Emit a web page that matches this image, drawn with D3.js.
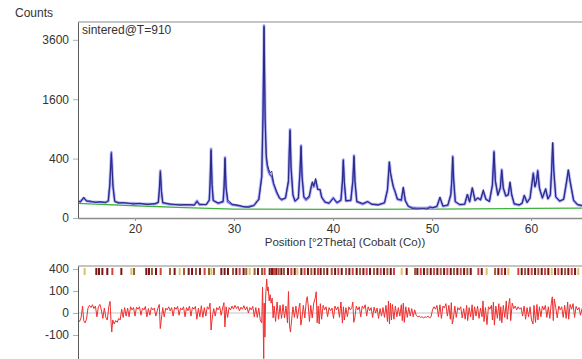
<!DOCTYPE html>
<html>
<head>
<meta charset="utf-8">
<script src="https://cdn.jsdelivr.net/npm/d3@7"></script>
<style>
body { margin: 0; background: #fff; }
text { font-family: "Liberation Sans", Arial, sans-serif; fill: #333; }
</style>
</head>
<body>
<div id="container"></div>
<script>
const twoTheta = [
  14.24, 14.5, 14.82, 15.1, 15.5, 16.0, 16.5, 17.0, 17.3, 17.45, 17.61, 17.77, 17.95, 18.3, 19.0, 19.8,
  20.5, 21.2, 22.0, 22.35, 22.45, 22.56, 22.67, 22.8, 23.5, 24.5, 25.5, 26.0, 26.26, 26.5, 27.2, 27.5,
  27.58, 27.68, 27.78, 27.9, 28.4, 28.9, 29.0, 29.09, 29.19, 29.35, 29.8, 30.5, 31.0, 31.5, 32.0, 32.5,
  32.8, 32.93, 33.03, 33.14, 33.25, 33.36, 33.5, 33.65, 33.81, 34.0, 34.31, 34.6, 34.82, 35.2, 35.5, 35.58,
  35.66, 35.76, 35.95, 36.16, 36.5, 36.67, 36.77, 36.87, 37.05, 37.27, 37.6, 37.8, 37.91, 38.05, 38.25, 38.45,
  38.69, 38.85, 39.2, 39.6, 40.03, 40.4, 40.8, 40.95, 41.04, 41.14, 41.3, 41.8, 42.0, 42.12, 42.22, 42.4,
  43.0, 43.5, 43.9, 44.58, 45.2, 45.5, 45.69, 45.8, 45.93, 46.1, 46.26, 46.5, 46.9, 47.1, 47.3, 47.6,
  48.0, 48.5, 49.0, 49.5, 49.8, 50.1, 50.5, 50.8, 51.1, 51.6, 51.9, 52.0, 52.09, 52.19, 52.35, 52.8,
  53.3, 53.57, 53.8, 54.07, 54.35, 54.62, 54.9, 55.18, 55.45, 55.8, 56.1, 56.26, 56.4, 56.65, 56.9, 57.04,
  57.2, 57.45, 57.7, 57.88, 58.05, 58.3, 58.8, 59.1, 59.32, 59.6, 59.9, 60.1, 60.23, 60.4, 60.55, 60.68,
  60.85, 61.15, 61.48, 61.7, 61.95, 62.08, 62.19, 62.3, 62.5, 62.9, 63.3, 63.6, 63.77, 63.95, 64.3, 64.7,
  65.15
];
const calcCounts = [
  30, 32, 45, 34, 30, 29, 28, 28, 32, 120, 490, 120, 32, 27, 25, 24,
  23, 22, 22, 28, 80, 254, 80, 26, 21, 20, 19, 20, 33, 20, 21, 35,
  130, 542, 130, 35, 24, 30, 110, 417, 110, 30, 20, 17, 14, 15, 18, 40,
  200, 1200, 4200, 1200, 420, 302, 240, 210, 196, 130, 72, 45, 37, 45, 150, 500,
  890, 300, 60, 32, 45, 250, 596, 200, 50, 37, 50, 110, 138, 110, 160, 95,
  90, 50, 28, 25, 46, 26, 35, 150, 387, 150, 33, 35, 150, 442, 150, 30,
  22, 30, 22, 20, 26, 90, 351, 240, 166, 110, 79, 40, 35, 101, 35, 16,
  12, 11, 11, 11, 14, 12, 15, 46, 16, 18, 60, 160, 432, 160, 30, 20,
  22, 61, 30, 101, 35, 45, 38, 80, 40, 32, 120, 505, 150, 60, 100, 265,
  100, 55, 60, 138, 60, 22, 19, 25, 56, 28, 45, 140, 229, 110, 150, 257,
  100, 45, 94, 42, 60, 250, 629, 250, 50, 32, 40, 150, 257, 150, 35, 20,
  17
];
const obsCounts = [
  33, 28, 50, 31, 33, 27, 31, 26, 34, 130, 470, 112, 30, 25, 27, 22,
  25, 20, 24, 27, 88, 240, 78, 27, 23, 19, 21, 18, 30, 22, 20, 38,
  140, 520, 128, 34, 26, 32, 118, 405, 112, 40, 22, 18, 14, 13, 17, 38,
  185, 1240, 4150, 1100, 470, 330, 270, 232, 250, 135, 80, 44, 40, 46, 160, 480,
  870, 280, 62, 33, 44, 262, 580, 195, 52, 42, 56, 115, 150, 118, 178, 90,
  94, 48, 29, 24, 44, 27, 38, 155, 378, 146, 34, 36, 160, 430, 148, 32,
  24, 31, 21, 19, 27, 88, 360, 225, 175, 106, 84, 41, 38, 110, 33, 15,
  10, 9, 10, 9, 12, 12, 16, 50, 16, 20, 64, 168, 420, 158, 31, 21,
  21, 64, 29, 104, 34, 47, 36, 92, 38, 30, 125, 490, 160, 58, 106, 258,
  104, 56, 62, 150, 62, 24, 20, 24, 60, 27, 44, 136, 222, 112, 156, 250,
  102, 46, 98, 41, 62, 256, 650, 260, 51, 33, 39, 156, 265, 152, 36, 21,
  18
];
const backgroundTheta = [14.24, 20, 25, 30, 40, 50, 60, 65.15];
const backgroundCounts = [24, 17, 12, 9, 8.5, 9, 10.5, 11];

// observed - calculated, [2theta, counts]
const residual = [
  [14.24, -8], [14.4, -15], [14.55, -5], [14.7, 10], [14.82, -12], [14.95, -20], [15.1, -8], [15.25, 5],
  [15.4, 12], [15.55, 6], [15.7, 14], [15.85, 4], [16.0, 10], [16.15, -3], [16.3, 8], [16.45, 15],
  [16.6, 2], [16.75, -6], [16.9, 5], [17.05, -4], [17.2, -10], [17.35, 8], [17.48, 28], [17.58, -20],
  [17.65, -75], [17.75, -10], [17.9, -25], [18.05, -12], [18.2, -18], [18.35, -6], [18.5, -10], [18.65, 3],
  [18.8, -4], [18.95, 6], [19.1, -2], [19.25, 5], [19.4, -3], [19.55, 8], [19.7, 2], [19.85, 6],
  [20.0, -2], [20.15, 7], [20.3, 3], [20.45, 8], [20.6, -1], [20.75, 5], [20.9, 2], [21.05, 9],
  [21.2, -3], [21.35, 4], [21.5, -1], [21.65, 6], [21.8, 2], [21.95, 5], [22.1, -2], [22.3, 4],
  [22.45, 15], [22.55, -50], [22.65, -10], [22.8, 6], [22.95, -3], [23.1, 5], [23.25, 2], [23.4, 8],
  [23.55, 1], [23.7, 6], [23.85, -2], [24.0, 7], [24.15, 3], [24.3, 9], [24.45, -1], [24.6, 5],
  [24.75, 2], [24.9, 8], [25.05, -3], [25.2, 6], [25.35, 1], [25.5, 10], [25.65, -2], [25.8, 7],
  [25.95, 3], [26.1, 9], [26.25, -8], [26.4, 5], [26.55, -3], [26.7, 11], [26.85, -4], [27.0, 6],
  [27.15, -2], [27.3, 8], [27.45, 3], [27.58, 20], [27.68, -60], [27.8, -5], [27.95, 4], [28.1, -2],
  [28.25, 6], [28.4, 2], [28.55, 9], [28.7, -1], [28.85, 5], [28.98, 22], [29.08, -40], [29.2, 8],
  [29.35, -4], [29.5, 6], [29.65, 2], [29.8, 10], [29.95, 3], [30.1, 12], [30.25, 4], [30.4, 9],
  [30.55, 1], [30.7, 7], [30.85, 3], [31.0, 11], [31.15, 2], [31.3, 8], [31.45, 0], [31.6, 6],
  [31.75, 2], [31.9, 9], [32.05, -3], [32.2, 6], [32.35, -4], [32.5, 5], [32.65, -10], [32.8, -20],
  [32.88, 140], [32.95, -30], [33.0, -430], [33.05, 20], [33.12, -120], [33.2, 60], [33.3, 240], [33.38, 100],
  [33.45, 140], [33.55, 30], [33.65, 70], [33.75, 20], [33.85, 45], [33.95, -5], [34.05, 10], [34.2, -15],
  [34.35, 25], [34.5, -8], [34.65, 12], [34.8, -6], [34.95, 15], [35.1, -5], [35.25, 10], [35.4, -20],
  [35.5, 95], [35.6, -30], [35.7, -75], [35.82, -10], [35.95, 8], [36.1, -4], [36.25, 10], [36.4, -6],
  [36.55, 5], [36.65, 20], [36.75, -30], [36.85, -8], [37.0, 12], [37.15, -5], [37.3, 30], [37.4, 55],
  [37.5, 10], [37.62, -15], [37.75, 12], [37.9, -5], [38.05, 20], [38.2, 45], [38.3, 93], [38.4, -20],
  [38.5, 10], [38.6, -25], [38.72, 18], [38.85, -8], [39.0, 12], [39.15, 2], [39.3, 8], [39.45, -3],
  [39.6, 6], [39.75, 1], [39.9, 5], [40.05, -6], [40.2, 10], [40.35, 2], [40.5, 8], [40.65, -4],
  [40.8, 25], [40.95, -21], [41.05, 8], [41.15, -10], [41.3, 6], [41.45, -3], [41.6, 8], [41.75, 2],
  [41.9, 6], [42.0, 25], [42.1, -18], [42.2, -5], [42.35, 10], [42.5, 2], [42.65, 8], [42.8, -3],
  [42.95, 10], [43.1, 4], [43.25, 14], [43.4, -2], [43.55, 8], [43.7, 1], [43.85, 6], [44.0, -4],
  [44.15, 7], [44.3, 0], [44.45, 5], [44.6, -6], [44.75, 4], [44.9, -2], [45.05, 6], [45.2, -4],
  [45.35, 12], [45.5, -15], [45.6, 30], [45.7, -25], [45.8, 20], [45.9, -10], [46.0, 15], [46.15, -8],
  [46.3, 10], [46.45, -3], [46.6, 6], [46.75, -2], [46.9, 14], [47.0, -12], [47.1, 20], [47.2, -18],
  [47.35, 8], [47.5, -4], [47.65, 6], [47.8, -2], [47.95, 4], [48.1, -3], [48.25, 2], [48.4, -1],
  [48.55, -3], [48.7, -2], [48.85, -4], [49.0, -3], [49.15, -5], [49.3, -3], [49.45, -4], [49.6, -2],
  [49.75, -5], [49.9, -3], [50.05, 2], [50.2, 8], [50.35, 3], [50.5, 12], [50.65, -3], [50.8, 14],
  [50.95, -6], [51.1, 10], [51.25, 5], [51.4, 18], [51.55, -2], [51.7, 12], [51.85, -8], [51.95, 22],
  [52.05, -25], [52.15, -8], [52.3, 10], [52.45, -4], [52.6, 6], [52.75, 2], [52.9, 8], [53.05, -5],
  [53.2, 4], [53.35, -8], [53.5, 12], [53.6, -12], [53.75, 6], [53.9, -3], [54.05, 14], [54.15, -10],
  [54.3, 8], [54.45, -2], [54.6, 10], [54.75, -6], [54.9, 5], [55.05, -3], [55.15, 30], [55.25, -15],
  [55.4, 6], [55.55, -28], [55.7, 8], [55.85, 3], [56.0, 12], [56.1, -10], [56.2, 25], [56.3, -30],
  [56.45, 10], [56.6, -6], [56.75, 18], [56.85, -12], [56.95, 8], [57.05, -20], [57.2, 12], [57.35, -4],
  [57.5, 30], [57.6, -8], [57.75, 15], [57.85, 44], [57.95, -12], [58.1, 20], [58.25, 4], [58.4, 10],
  [58.55, 2], [58.7, 8], [58.85, 3], [59.0, 6], [59.15, -2], [59.3, 10], [59.45, -8], [59.6, 6],
  [59.75, -3], [59.9, 8], [60.05, -10], [60.2, -25], [60.3, 12], [60.45, -18], [60.6, 15], [60.7, -10],
  [60.85, 8], [61.0, -3], [61.15, 10], [61.3, 2], [61.45, 12], [61.6, -4], [61.75, 8], [61.9, -6],
  [62.05, 20], [62.15, 54], [62.25, -12], [62.35, 40], [62.5, 6], [62.65, -5], [62.8, 10], [62.95, 2],
  [63.1, 8], [63.25, -4], [63.4, 12], [63.55, -6], [63.7, 25], [63.8, -8], [63.95, 15], [64.1, 3],
  [64.25, 18], [64.4, -4], [64.55, 9], [64.7, 2], [64.85, 6], [65.0, -1], [65.15, 4]
];

// reflection positions per phase
const phaseA = [16.09, 16.36, 16.70, 17.20, 18.62, 21.14, 21.41, 22.12, 24.00, 25.42, 25.76, 26.56, 28.72,
  29.05, 29.39, 30.23, 30.97, 32.42, 33.60, 33.84, 34.27, 34.78, 35.45, 36.13, 36.80, 37.47, 38.15, 38.75,
  39.42, 40.21, 40.88, 41.65, 42.39, 43.07, 43.74, 44.48, 45.15, 45.83, 47.44, 48.52, 49.19, 49.87, 50.54,
  51.22, 51.89, 52.56, 53.24, 53.91, 55.02, 56.70, 57.38, 59.06, 59.73, 60.41, 61.08, 61.75, 62.43, 63.10,
  63.77, 64.45];
const phaseB = [17.71, 22.59, 27.03, 30.57, 33.09, 34.04, 35.79, 37.13, 38.48, 40.54, 41.99, 43.40, 44.82,
  46.16, 48.86, 50.21, 51.55, 52.90, 54.68, 57.04, 58.72, 60.07, 61.42, 62.76, 64.11];
const phaseC = [14.91, 19.63, 24.51, 27.71, 31.58, 36.40, 46.94, 55.52, 57.71, 62.09, 64.78];
const phaseD = [19.90, 21.71, 23.53, 24.95, 26.16, 27.47, 27.98, 29.90, 31.24, 32.08, 32.83, 34.51, 35.05,
  37.81, 39.09, 39.87, 41.32, 42.73, 44.14, 45.49, 48.29, 49.53, 50.88, 52.22, 53.57, 56.37, 59.40, 60.74,
  63.44];

const xTicks = [20, 30, 40, 50, 60];
const countTicks = [0, 400, 1600, 3600];
const diffTicks = [400, 100, 0, -100];

const width = 582;
const height = 359;

const svg = d3.select("#container").append("svg")
    .attr("width", width)
    .attr("height", height);

const x = d3.scaleLinear().domain([14.24, 65.15]).range([78, 582]);
const y = d3.scaleSqrt().domain([0, 4356]).range([218, 22]);
const yDiff = d3.scaleSqrt().domain([-437, 456]).range([359, 266]);

const defs = svg.append("defs");
defs.append("clipPath").attr("id", "clipTop")
    .append("rect").attr("x", 78).attr("y", 22).attr("width", 504).attr("height", 196);
defs.append("clipPath").attr("id", "clipDiff")
    .append("rect").attr("x", 78).attr("y", 266).attr("width", 504).attr("height", 93);

// ---- top panel ----
svg.append("line")
    .attr("x1", 78).attr("x2", 582).attr("y1", 22).attr("y2", 22)
    .attr("stroke", "#8c8c8c").attr("stroke-width", 1.2);

const profile = twoTheta.map((t, i) => ({ t, calc: calcCounts[i], obs: obsCounts[i] }));
const background = backgroundTheta.map((t, i) => ({ t, c: backgroundCounts[i] }));

const topPlot = svg.append("g").attr("clip-path", "url(#clipTop)");

topPlot.append("path")
    .datum(background)
    .attr("fill", "none")
    .attr("stroke", "#3db23d")
    .attr("stroke-width", 1.3)
    .attr("d", d3.line().x(d => x(d.t)).y(d => y(d.c)));

// calculated: lavender halo + blue line
topPlot.append("path")
    .datum(profile)
    .attr("fill", "none")
    .attr("stroke", "#c2c2f5")
    .attr("stroke-width", 3.2)
    .attr("stroke-linejoin", "round")
    .attr("d", d3.line().x(d => x(d.t)).y(d => y(d.calc)));

topPlot.append("path")
    .datum(profile)
    .attr("fill", "none")
    .attr("stroke", "#5454e8")
    .attr("stroke-width", 1.4)
    .attr("stroke-linejoin", "round")
    .attr("d", d3.line().x(d => x(d.t)).y(d => y(d.calc)));

// observed on top, thin navy
topPlot.append("path")
    .datum(profile)
    .attr("fill", "none")
    .attr("stroke", "#26266a")
    .attr("stroke-width", 0.9)
    .attr("stroke-linejoin", "round")
    .attr("d", d3.line().x(d => x(d.t)).y(d => y(d.obs)));

const yAxis = svg.append("g")
    .attr("transform", "translate(78,0)")
    .call(d3.axisLeft(y).tickValues(countTicks).tickFormat(d => String(d))
        .tickSize(5).tickSizeOuter(0).tickPadding(4));
yAxis.select(".domain").attr("stroke", "#5a5a5a");
yAxis.selectAll(".tick line").attr("stroke", "#b0b0b0");
yAxis.selectAll("text").attr("font-size", 12).attr("fill", "#333");

const xAxis = svg.append("g")
    .attr("transform", "translate(0,218)")
    .call(d3.axisBottom(x).tickValues(xTicks).tickSize(3).tickSizeOuter(0).tickPadding(3));
xAxis.select(".domain").attr("stroke", "#8c8c8c").attr("stroke-width", 1.5);
xAxis.selectAll(".tick line").attr("stroke", "#999");
xAxis.selectAll("text").attr("font-size", 12).attr("fill", "#333");

svg.append("text").attr("x", 15).attr("y", 17).attr("font-size", 12).text("Counts");
svg.append("text").attr("x", 82).attr("y", 34).attr("font-size", 12).attr("fill", "#222").text("sintered@T=910");
svg.append("text").attr("x", 345).attr("y", 246).attr("font-size", 11.5)
    .attr("text-anchor", "middle").text("Position [°2Theta] (Cobalt (Co))");

// ---- difference panel ----
svg.append("line")
    .attr("x1", 78).attr("x2", 582).attr("y1", 266).attr("y2", 266)
    .attr("stroke", "#8c8c8c").attr("stroke-width", 1.2);

const diffPlot = svg.append("g").attr("clip-path", "url(#clipDiff)");

diffPlot.append("line")
    .attr("x1", 78).attr("x2", 582)
    .attr("y1", yDiff(0)).attr("y2", yDiff(0))
    .attr("stroke", "#c4c4c4");

const phases = [
  { pos: phaseD, color: "#9a5c3c" },
  { pos: phaseA, color: "#7a1616" },
  { pos: phaseB, color: "#cc4444" },
  { pos: phaseC, color: "#d8c26a" }
];
phases.forEach(p => {
  diffPlot.selectAll(null)
      .data(p.pos)
      .enter()
      .append("rect")
      .attr("x", d => x(d) - 1)
      .attr("y", 268)
      .attr("width", 2)
      .attr("height", 7)
      .attr("fill", p.color);
});

diffPlot.append("path")
    .datum(residual)
    .attr("fill", "none")
    .attr("stroke", "#ef2f2f")
    .attr("stroke-width", 1)
    .attr("stroke-linejoin", "round")
    .attr("d", d3.line().x(d => x(d[0])).y(d => yDiff(d[1])));

const dAxis = svg.append("g")
    .attr("transform", "translate(78,0)")
    .call(d3.axisLeft(yDiff).tickValues(diffTicks).tickFormat(d => String(d))
        .tickSize(5).tickSizeOuter(0).tickPadding(4));
dAxis.select(".domain").attr("stroke", "#5a5a5a");
dAxis.selectAll(".tick line").attr("stroke", "#b0b0b0");
dAxis.selectAll("text").attr("font-size", 12).attr("fill", "#333");
</script>
</body>
</html>
